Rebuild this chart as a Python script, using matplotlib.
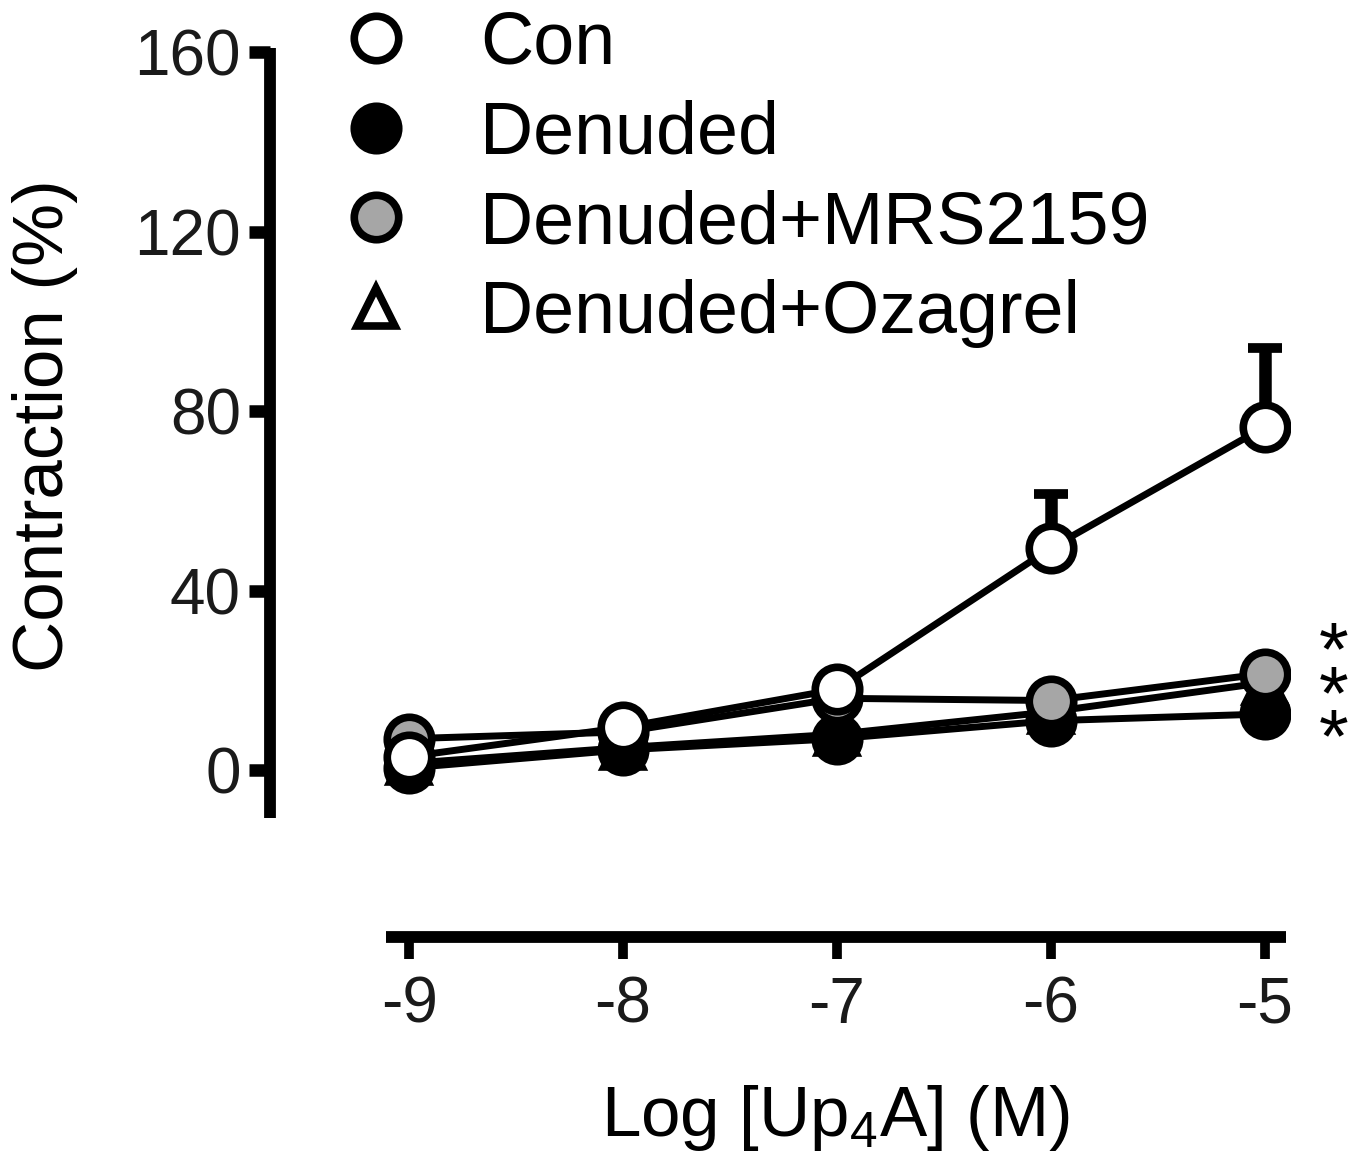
import matplotlib
matplotlib.use("Agg")
import matplotlib.pyplot as plt
from matplotlib.lines import Line2D
import numpy as np

plt.rcParams['font.family'] = ['Liberation Sans', 'DejaVu Sans']
plt.rcParams['mathtext.fontset'] = 'custom'
plt.rcParams['mathtext.rm'] = 'Liberation Sans'
plt.rcParams['mathtext.default'] = 'regular'

# ---- data ----
log_conc = [-9, -8, -7, -6, -5]
con = [3.0, 9.5, 18.0, 49.5, 76.5]
con_err = [0.0, 0.0, 0.0, 12.0, 17.5]
denuded = [0.5, 4.5, 7.0, 11.0, 12.5]
mrs2159 = [7.0, 8.5, 16.0, 15.5, 21.5]
ozagrel = [1.5, 5.0, 8.0, 13.0, 19.5]
series_labels = ['Con', 'Denuded', 'Denuded+MRS2159', 'Denuded+Ozagrel']
y_ticks = [0, 40, 80, 120, 160]
x_ticks = [-9, -8, -7, -6, -5]
sig_marks = '*\n*\n*'

W, H = 1363, 1169
fig = plt.figure(figsize=(W / 100, H / 100), dpi=100)
ax = fig.add_axes([270 / W, (H - 937) / H, (1290 - 270) / W, (937 - 45) / H])

ax.set_xlim(-9.650, -4.883)
ax.set_ylim(-37.2, 161.6)

lw = 5
ms = 32
mew = 5.5
# Draw order: Ozagrel, Denuded, MRS, Con on top
ax.plot(log_conc, ozagrel, color='black', lw=lw, marker='^', ms=ms * 0.85,
        mfc='white', mec='black', mew=mew, zorder=3)
ax.plot(log_conc, denuded, color='black', lw=lw, marker='o', ms=ms,
        mfc='black', mec='black', mew=mew, zorder=4)
ax.plot(log_conc, mrs2159, color='black', lw=lw, marker='o', ms=ms,
        mfc='#a6a6a6', mec='black', mew=mew, zorder=5)
ax.errorbar(log_conc, con, yerr=[np.zeros(len(con)), con_err], fmt='none',
            ecolor='black', elinewidth=9, capsize=12, capthick=7, zorder=5.5)
ax.plot(log_conc, con, color='black', lw=lw, marker='o', ms=ms,
        mfc='white', mec='black', mew=mew, zorder=6)

# significance stars (one text block)
ax.text(-4.68, 15.9, sig_marks, fontsize=55, ha='center', va='center',
        linespacing=0.5, color='black')

# spines
for side in ['top', 'right']:
    ax.spines[side].set_visible(False)
ax.spines['left'].set_linewidth(8.5)
ax.spines['left'].set_bounds(-10.7, 160.9)
ax.spines['left'].set_capstyle('butt')
ax.spines['bottom'].set_linewidth(8.5)
ax.spines['bottom'].set_bounds(-9.11, -4.90)
ax.spines['bottom'].set_capstyle('butt')

ax.set_yticks(y_ticks)
ax.set_yticklabels([str(v) for v in y_ticks])
ax.set_xticks(x_ticks)
ax.set_xticklabels([str(v) for v in x_ticks])
ax.tick_params(axis='y', direction='out', length=15, width=9, pad=6,
               labelsize=46, labelcolor='#1a1a1a')
ax.tick_params(axis='x', direction='out', length=16, width=7, pad=12,
               labelsize=46, labelcolor='#1a1a1a')

# axis labels
fig.text(45 / W, (H - 426) / H, 'Contraction (%)', rotation=90, fontsize=51,
         ha='center', va='center')
fig.text(835 / W, (H - 1118) / H, r'Log [Up$_{4}$A] (M)', fontsize=51,
         ha='center', va='center')

# legend
handles = [
    Line2D([], [], ls='none', marker='o', ms=ms, mfc='white', mec='black', mew=mew),
    Line2D([], [], ls='none', marker='o', ms=ms, mfc='black', mec='black', mew=mew),
    Line2D([], [], ls='none', marker='o', ms=ms, mfc='#a6a6a6', mec='black', mew=mew),
    Line2D([], [], ls='none', marker='^', ms=ms * 0.85, mfc='white', mec='black', mew=mew),
]
fig.legend(handles, series_labels, loc='upper left',
           bbox_to_anchor=(339 / W, 1.0 - 10 / H), frameon=False, fontsize=53,
           handlelength=1.0, handletextpad=0.92, labelspacing=0.28,
           borderpad=0.0, borderaxespad=0.0)

fig.savefig('out.png', dpi=100)
